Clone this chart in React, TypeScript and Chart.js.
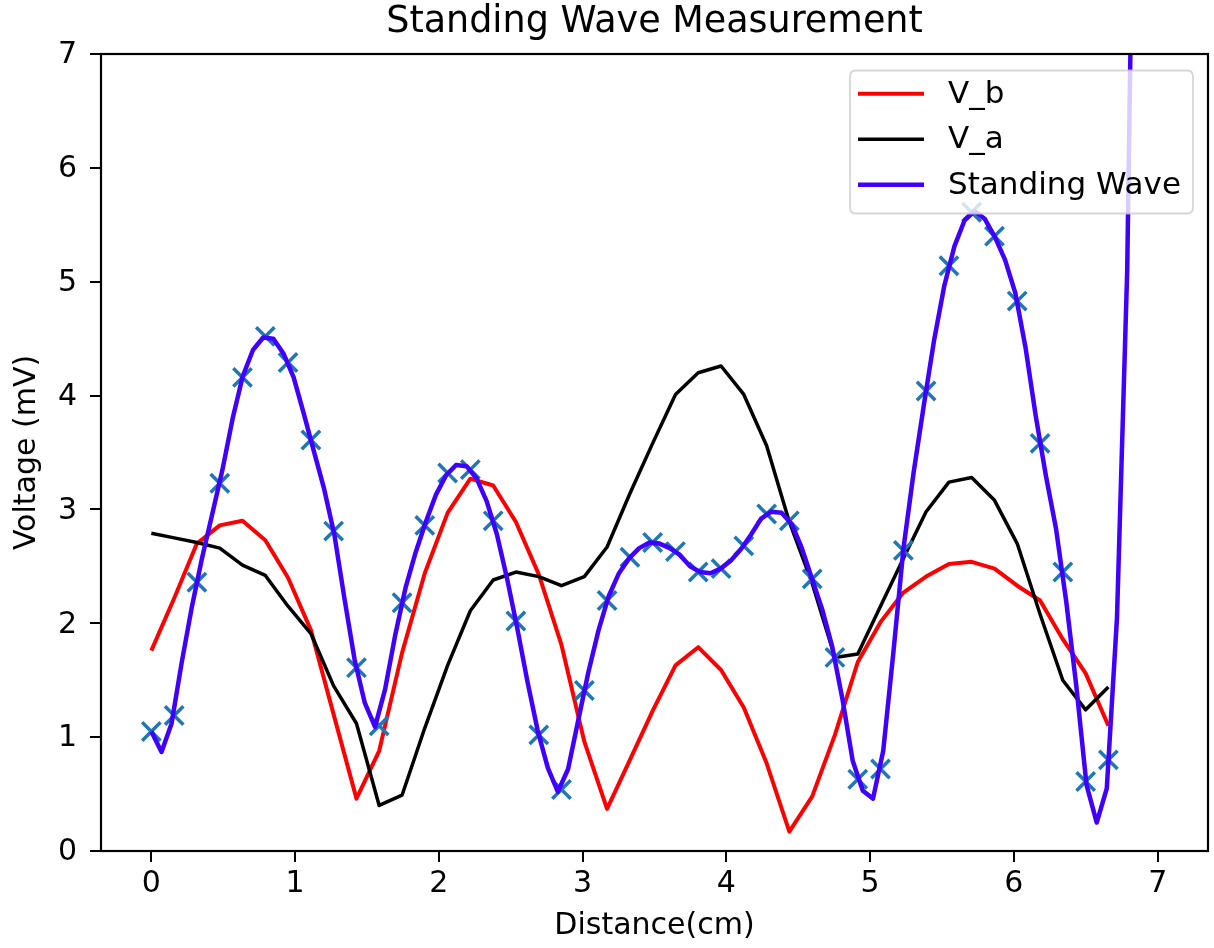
import React, { useEffect, useRef } from 'react';
import { Chart, registerables } from 'chart.js';

Chart.register(...registerables);
Chart.defaults.font.family = "'DejaVu Sans', sans-serif";

// Sample positions (cm) of the measurements
const sampleX = [0, 0.159, 0.317, 0.476, 0.634, 0.793, 0.951, 1.110, 1.268, 1.427, 1.585, 1.744, 1.902, 2.061, 2.219, 2.378, 2.536, 2.695, 2.853, 3.012, 3.170, 3.329, 3.487, 3.646, 3.804, 3.963, 4.121, 4.280, 4.438, 4.597, 4.755, 4.914, 5.072, 5.231, 5.389, 5.548, 5.706, 5.865, 6.023, 6.182, 6.340, 6.499, 6.657];

// V_b (red)
const vbValues = [1.76, 2.22, 2.70, 2.86, 2.90, 2.73, 2.40, 1.94, 1.20, 0.46, 0.88, 1.74, 2.44, 2.97, 3.27, 3.21, 2.89, 2.43, 1.81, 0.96, 0.37, 0.80, 1.23, 1.63, 1.79, 1.59, 1.26, 0.77, 0.17, 0.48, 1.02, 1.66, 2.01, 2.27, 2.41, 2.52, 2.54, 2.48, 2.33, 2.20, 1.86, 1.56, 1.10];

// V_a (black)
const vaValues = [2.79, 2.75, 2.71, 2.66, 2.51, 2.42, 2.15, 1.91, 1.45, 1.12, 0.40, 0.49, 1.08, 1.63, 2.11, 2.38, 2.45, 2.41, 2.33, 2.41, 2.67, 3.14, 3.58, 4.01, 4.20, 4.26, 4.01, 3.56, 2.89, 2.35, 1.70, 1.73, 2.15, 2.57, 2.98, 3.24, 3.28, 3.08, 2.70, 2.08, 1.50, 1.24, 1.44];

// Measured standing-wave points (x markers)
const measuredValues = [1.05, 1.19, 2.36, 3.23, 4.16, 4.52, 4.29, 3.61, 2.81, 1.61, 1.10, 2.18, 2.86, 3.32, 3.35, 2.90, 2.02, 1.02, 0.54, 1.41, 2.20, 2.58, 2.71, 2.63, 2.45, 2.48, 2.68, 2.96, 2.90, 2.39, 1.70, 0.63, 0.72, 2.64, 4.04, 5.14, 5.61, 5.40, 4.83, 3.58, 2.45, 0.61, 0.80];

// Standing wave fitted curve (blue)
const curveX = [0, 0.071, 0.141, 0.212, 0.283, 0.354, 0.424, 0.495, 0.566, 0.636, 0.707, 0.778, 0.848, 0.919, 0.990, 1.061, 1.131, 1.202, 1.273, 1.343, 1.414, 1.485, 1.556, 1.626, 1.697, 1.768, 1.838, 1.909, 1.980, 2.051, 2.121, 2.192, 2.263, 2.333, 2.404, 2.475, 2.545, 2.616, 2.687, 2.758, 2.828, 2.899, 2.970, 3.040, 3.111, 3.182, 3.253, 3.323, 3.394, 3.465, 3.535, 3.606, 3.677, 3.747, 3.818, 3.889, 3.960, 4.030, 4.101, 4.172, 4.242, 4.313, 4.384, 4.455, 4.525, 4.596, 4.667, 4.737, 4.808, 4.879, 4.949, 5.020, 5.091, 5.162, 5.232, 5.303, 5.374, 5.444, 5.515, 5.586, 5.657, 5.727, 5.798, 5.869, 5.939, 6.010, 6.081, 6.152, 6.222, 6.293, 6.364, 6.434, 6.505, 6.576, 6.646, 6.717, 6.788, 6.859, 6.929, 7.000];
const curveValues = [1.05, 0.87, 1.12, 1.66, 2.15, 2.58, 2.96, 3.35, 3.80, 4.17, 4.40, 4.51, 4.50, 4.37, 4.16, 3.84, 3.51, 3.18, 2.78, 2.22, 1.68, 1.30, 1.09, 1.42, 1.90, 2.31, 2.62, 2.89, 3.13, 3.30, 3.39, 3.38, 3.27, 3.07, 2.78, 2.39, 1.96, 1.49, 1.06, 0.73, 0.52, 0.72, 1.15, 1.57, 1.94, 2.24, 2.44, 2.57, 2.66, 2.71, 2.70, 2.66, 2.60, 2.50, 2.45, 2.44, 2.48, 2.55, 2.65, 2.78, 2.92, 2.98, 2.97, 2.87, 2.66, 2.39, 2.12, 1.79, 1.33, 0.79, 0.53, 0.46, 0.88, 1.75, 2.66, 3.33, 3.92, 4.48, 4.96, 5.31, 5.54, 5.62, 5.55, 5.39, 5.19, 4.90, 4.42, 3.82, 3.30, 2.83, 2.19, 1.45, 0.58, 0.25, 0.55, 2.05, 5.10, 11.2, 21.9, 38.6];

const xTicks = [0, 1, 2, 3, 4, 5, 6, 7];
const yTicks = [0, 1, 2, 3, 4, 5, 6, 7];

const legendItems = [
  { label: 'V_b', color: '#ff0000', width: 4 },
  { label: 'V_a', color: '#000000', width: 3.5 },
  { label: 'Standing Wave', color: '#4000ff', width: 4.5 },
];

const toPoints = (xs: number[], ys: number[]) => xs.map((x, i) => ({ x, y: ys[i] }));

const framePlugin = {
  id: 'frame',
  afterDatasetsDraw(chart: any) {
    const { ctx, chartArea } = chart;
    const { left, top, right, bottom } = chartArea;
    ctx.save();
    ctx.strokeStyle = '#000';
    ctx.lineWidth = 2.2;
    ctx.strokeRect(left, top, right - left, bottom - top);
    ctx.restore();
  },
};

const legendPlugin = {
  id: 'insideLegend',
  afterDraw(chart: any) {
    const { ctx, chartArea } = chart;
    const boxRight = chartArea.right - 15;
    const boxTop = chartArea.top + 16.5;
    const boxW = 343;
    const boxH = 143;
    const boxLeft = boxRight - boxW;
    ctx.save();
    ctx.beginPath();
    const r = 6;
    ctx.moveTo(boxLeft + r, boxTop);
    ctx.lineTo(boxRight - r, boxTop);
    ctx.quadraticCurveTo(boxRight, boxTop, boxRight, boxTop + r);
    ctx.lineTo(boxRight, boxTop + boxH - r);
    ctx.quadraticCurveTo(boxRight, boxTop + boxH, boxRight - r, boxTop + boxH);
    ctx.lineTo(boxLeft + r, boxTop + boxH);
    ctx.quadraticCurveTo(boxLeft, boxTop + boxH, boxLeft, boxTop + boxH - r);
    ctx.lineTo(boxLeft, boxTop + r);
    ctx.quadraticCurveTo(boxLeft, boxTop, boxLeft + r, boxTop);
    ctx.closePath();
    ctx.fillStyle = 'rgba(255,255,255,0.8)';
    ctx.fill();
    ctx.strokeStyle = 'rgba(204,204,204,0.8)';
    ctx.lineWidth = 1.8;
    ctx.stroke();
    ctx.font = "31px 'DejaVu Sans', sans-serif";
    ctx.textBaseline = 'middle';
    ctx.textAlign = 'left';
    legendItems.forEach((item, i) => {
      const y = boxTop + 23.3 + i * 45.5;
      ctx.beginPath();
      ctx.strokeStyle = item.color;
      ctx.lineWidth = item.width;
      ctx.moveTo(boxLeft + 8, y);
      ctx.lineTo(boxLeft + 74, y);
      ctx.stroke();
      ctx.fillStyle = '#000';
      ctx.fillText(item.label, boxLeft + 98, y + 1);
    });
    ctx.restore();
  },
};

export default function App() {
  const canvasRef = useRef<HTMLCanvasElement>(null);

  useEffect(() => {
    document.body.style.margin = '0';
    const canvas = canvasRef.current;
    if (!canvas) return;
    const chart = new Chart(canvas, {
      type: 'scatter',
      data: {
        datasets: [
          {
            label: 'Standing Wave',
            data: toPoints(curveX, curveValues),
            showLine: true,
            borderColor: '#4000ff',
            backgroundColor: '#4000ff',
            borderWidth: 4.5,
            borderJoinStyle: 'round',
            pointRadius: 0,
            tension: 0,
            order: 0,
          },
          {
            label: 'Measured',
            data: toPoints(sampleX, measuredValues),
            showLine: false,
            pointStyle: 'crossRot',
            pointRadius: 13,
            pointBorderColor: '#1f77b4',
            pointBackgroundColor: '#1f77b4',
            pointBorderWidth: 3.5,
            borderColor: '#1f77b4',
            borderWidth: 3.5,
            order: 1,
          },
          {
            label: 'V_a',
            data: toPoints(sampleX, vaValues),
            showLine: true,
            borderColor: '#000000',
            backgroundColor: '#000000',
            borderWidth: 3.5,
            borderJoinStyle: 'round',
            pointRadius: 0,
            tension: 0,
            order: 2,
          },
          {
            label: 'V_b',
            data: toPoints(sampleX, vbValues),
            showLine: true,
            borderColor: '#ff0000',
            backgroundColor: '#ff0000',
            borderWidth: 4,
            borderJoinStyle: 'round',
            pointRadius: 0,
            tension: 0,
            order: 3,
          },
        ],
      } as any,
      options: {
        responsive: false,
        animation: false,
        devicePixelRatio: 1,
        events: [],
        layout: { autoPadding: false, padding: { left: 0, right: 6, top: 0, bottom: 0 } },
        plugins: {
          legend: { display: false },
          tooltip: { enabled: false },
          title: {
            display: true,
            fullSize: false,
            text: 'Standing Wave Measurement',
            color: '#000',
            font: { size: 36.5, weight: 'normal' },
            padding: { top: 0.8, bottom: 9.4 },
          },
        },
        scales: {
          x: {
            type: 'linear',
            min: -0.35,
            max: 7.35,
            afterBuildTicks: (scale: any) => {
              scale.ticks = xTicks.map((v) => ({ value: v }));
            },
            afterFit: (scale: any) => {
              scale.height = 97;
              scale.paddingLeft = 0;
              scale.paddingRight = 0;
            },
            ticks: {
              color: '#000',
              font: { size: 30 },
              padding: 4.6,
              maxRotation: 0,
              autoSkip: false,
              callback: (v: any) => String(v),
            },
            grid: { drawOnChartArea: false, drawTicks: true, tickLength: 11, color: '#000', lineWidth: 2 },
            border: { display: false },
            title: {
              display: true,
              text: 'Distance(cm)',
              color: '#000',
              font: { size: 30 },
              padding: { top: 0, bottom: 3.4 },
            },
          },
          y: {
            type: 'linear',
            min: 0,
            max: 7,
            afterBuildTicks: (scale: any) => {
              scale.ticks = yTicks.map((v) => ({ value: v }));
            },
            afterFit: (scale: any) => {
              scale.width = 101;
              scale.paddingTop = 0;
              scale.paddingBottom = 0;
            },
            ticks: {
              color: '#000',
              font: { size: 30 },
              padding: 13,
              labelOffset: 1.5,
              autoSkip: false,
              callback: (v: any) => String(v),
            },
            grid: { drawOnChartArea: false, drawTicks: true, tickLength: 11, color: '#000', lineWidth: 2 },
            border: { display: false },
            title: {
              display: true,
              text: 'Voltage (mV)',
              color: '#000',
              font: { size: 30 },
              padding: { top: 9.1, bottom: 0 },
            },
          },
        },
      } as any,
      plugins: [framePlugin, legendPlugin],
    });
    return () => chart.destroy();
  }, []);

  return (
    <div style={{ width: 1214, height: 948 }}>
      <canvas ref={canvasRef} width={1214} height={948} style={{ display: 'block' }} />
    </div>
  );
}
